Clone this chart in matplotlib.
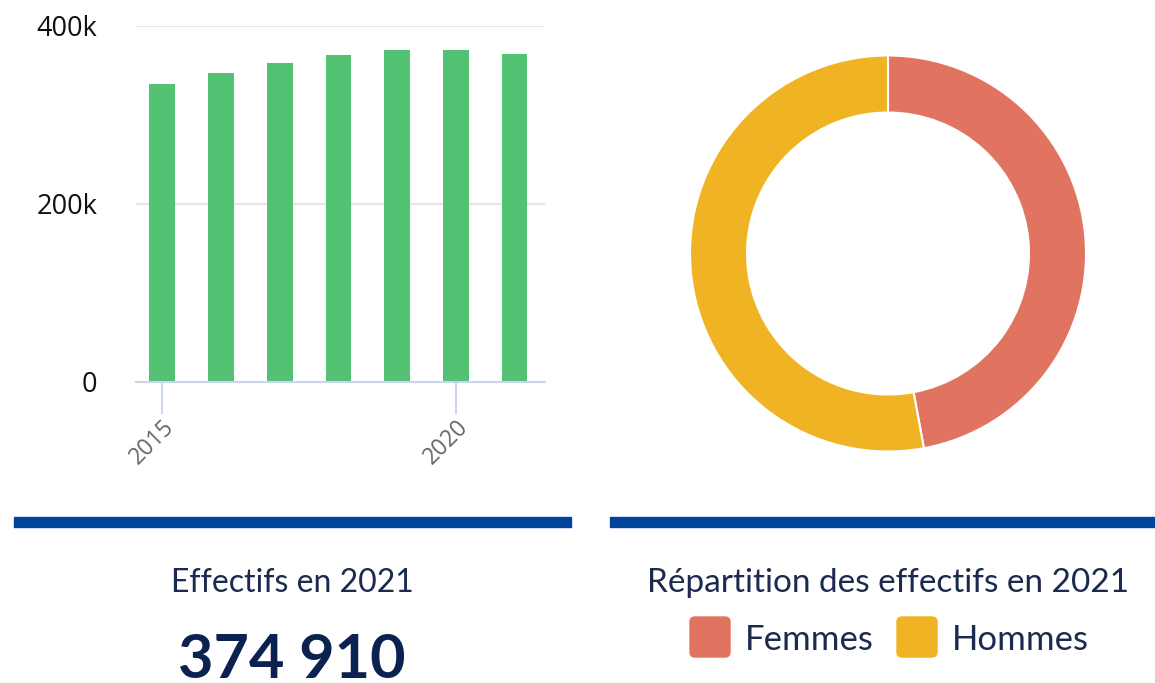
import matplotlib
matplotlib.use("Agg")
import matplotlib.pyplot as plt
from matplotlib.patches import Rectangle, FancyBboxPatch
from matplotlib.ticker import FuncFormatter

# ---- data ----
years = [2015, 2016, 2017, 2018, 2019, 2020, 2021]
effectifs = [335000, 347000, 358000, 367000, 373000, 373000, 369000]
xtick_years = [2015, 2020]
ytick_values = [0, 200000, 400000]
genres = ["Femmes", "Hommes"]
parts = [47.1, 52.9]
kpi_title = "Effectifs en 2021"
kpi_value = "374 910"
donut_title = "Répartition des effectifs en 2021"

# ---- style ----
W, H = 1155, 683
GREEN = "#54c273"
RED = "#e07460"
YELLOW = "#f0b323"
NAVY = "#1b2a4e"
NUM = "#0b2150"
BLUE = "#00439c"

fig = plt.figure(figsize=(W / 100, H / 100), dpi=100)

def fx(px):
    return px / W

def fy(py):
    return 1 - py / H

# ---- bar chart ----
ax = fig.add_axes([fx(136), fy(381.7), fx(545) - fx(136), fy(26) - fy(381.7)])
ax.bar(years, effectifs, width=0.44, color=GREEN, zorder=3)
ax.set_xlim(2014.55, 2021.52)
ax.set_ylim(0, 400000)
ax.set_yticks(ytick_values)
ax.yaxis.set_major_formatter(FuncFormatter(lambda v, p: "0" if v == 0 else f"{int(v/1000)}k"))
ax.set_xticks(xtick_years)
ax.set_xticklabels([str(y) for y in xtick_years], rotation=45, ha="right", va="top",
                   rotation_mode="anchor", color="#666666", fontsize=16.5, family="Open Sans")
for lab in ax.get_yticklabels():
    lab.set_fontsize(19.5)
    lab.set_family("Open Sans")
    lab.set_color("#111111")
ax.tick_params(axis="y", length=0, pad=28)
ax.tick_params(axis="x", length=23, width=1.5, color="#ccd6eb", pad=1)
ax.grid(axis="y", color="#e6e6e6", linewidth=1.5, zorder=0)
for s in ["top", "right", "left"]:
    ax.spines[s].set_visible(False)
ax.spines["bottom"].set_color("#ccd6eb")
ax.spines["bottom"].set_linewidth(1.5)
ax.spines["bottom"].set_zorder(4)

# ---- donut ----
cx, cy, r = 888, 253.5, 198
ax2 = fig.add_axes([fx(cx - r), fy(cy + r), fx(2 * r), fx(2 * r) * W / H])
ax2.pie(parts, colors=[RED, YELLOW], startangle=90, counterclock=False, radius=1,
        wedgeprops=dict(width=0.288, edgecolor="white", linewidth=1.5))
ax2.set_xlim(-1, 1)
ax2.set_ylim(-1, 1)
ax2.set_aspect("equal")
ax2.axis("off")

# ---- bottom panels ----
fig.add_artist(Rectangle((fx(14), fy(527)), fx(571) - fx(14), 10 / H, color=BLUE, transform=fig.transFigure))
fig.add_artist(Rectangle((fx(610), fy(527)), fx(1155) - fx(610), 10 / H, color=BLUE, transform=fig.transFigure))

fig.text(fx(292), fy(592), kpi_title, ha="center", va="baseline", fontsize=23,
         family="Lato", color=NAVY)
fig.text(fx(292), fy(678), kpi_value, ha="center", va="baseline", fontsize=44,
         family="Lato", weight="bold", color=NUM)
fig.text(fx(888), fy(592), donut_title, ha="center", va="baseline", fontsize=24,
         family="Lato", color=NAVY)

leg_x = [690, 897]
for lx, name, col in zip(leg_x, genres, [RED, YELLOW]):
    fig.add_artist(FancyBboxPatch((fx(lx + 4), fy(653)), fx(32), 32 / H,
                                  boxstyle=f"round,pad={4/W},rounding_size={5/W}",
                                  color=col, transform=fig.transFigure, mutation_aspect=W / H))
    fig.text(fx(lx + 55), fy(637), name, ha="left", va="center_baseline", fontsize=25,
             family="Lato", color=NAVY)

fig.savefig("out.png", dpi=100)
